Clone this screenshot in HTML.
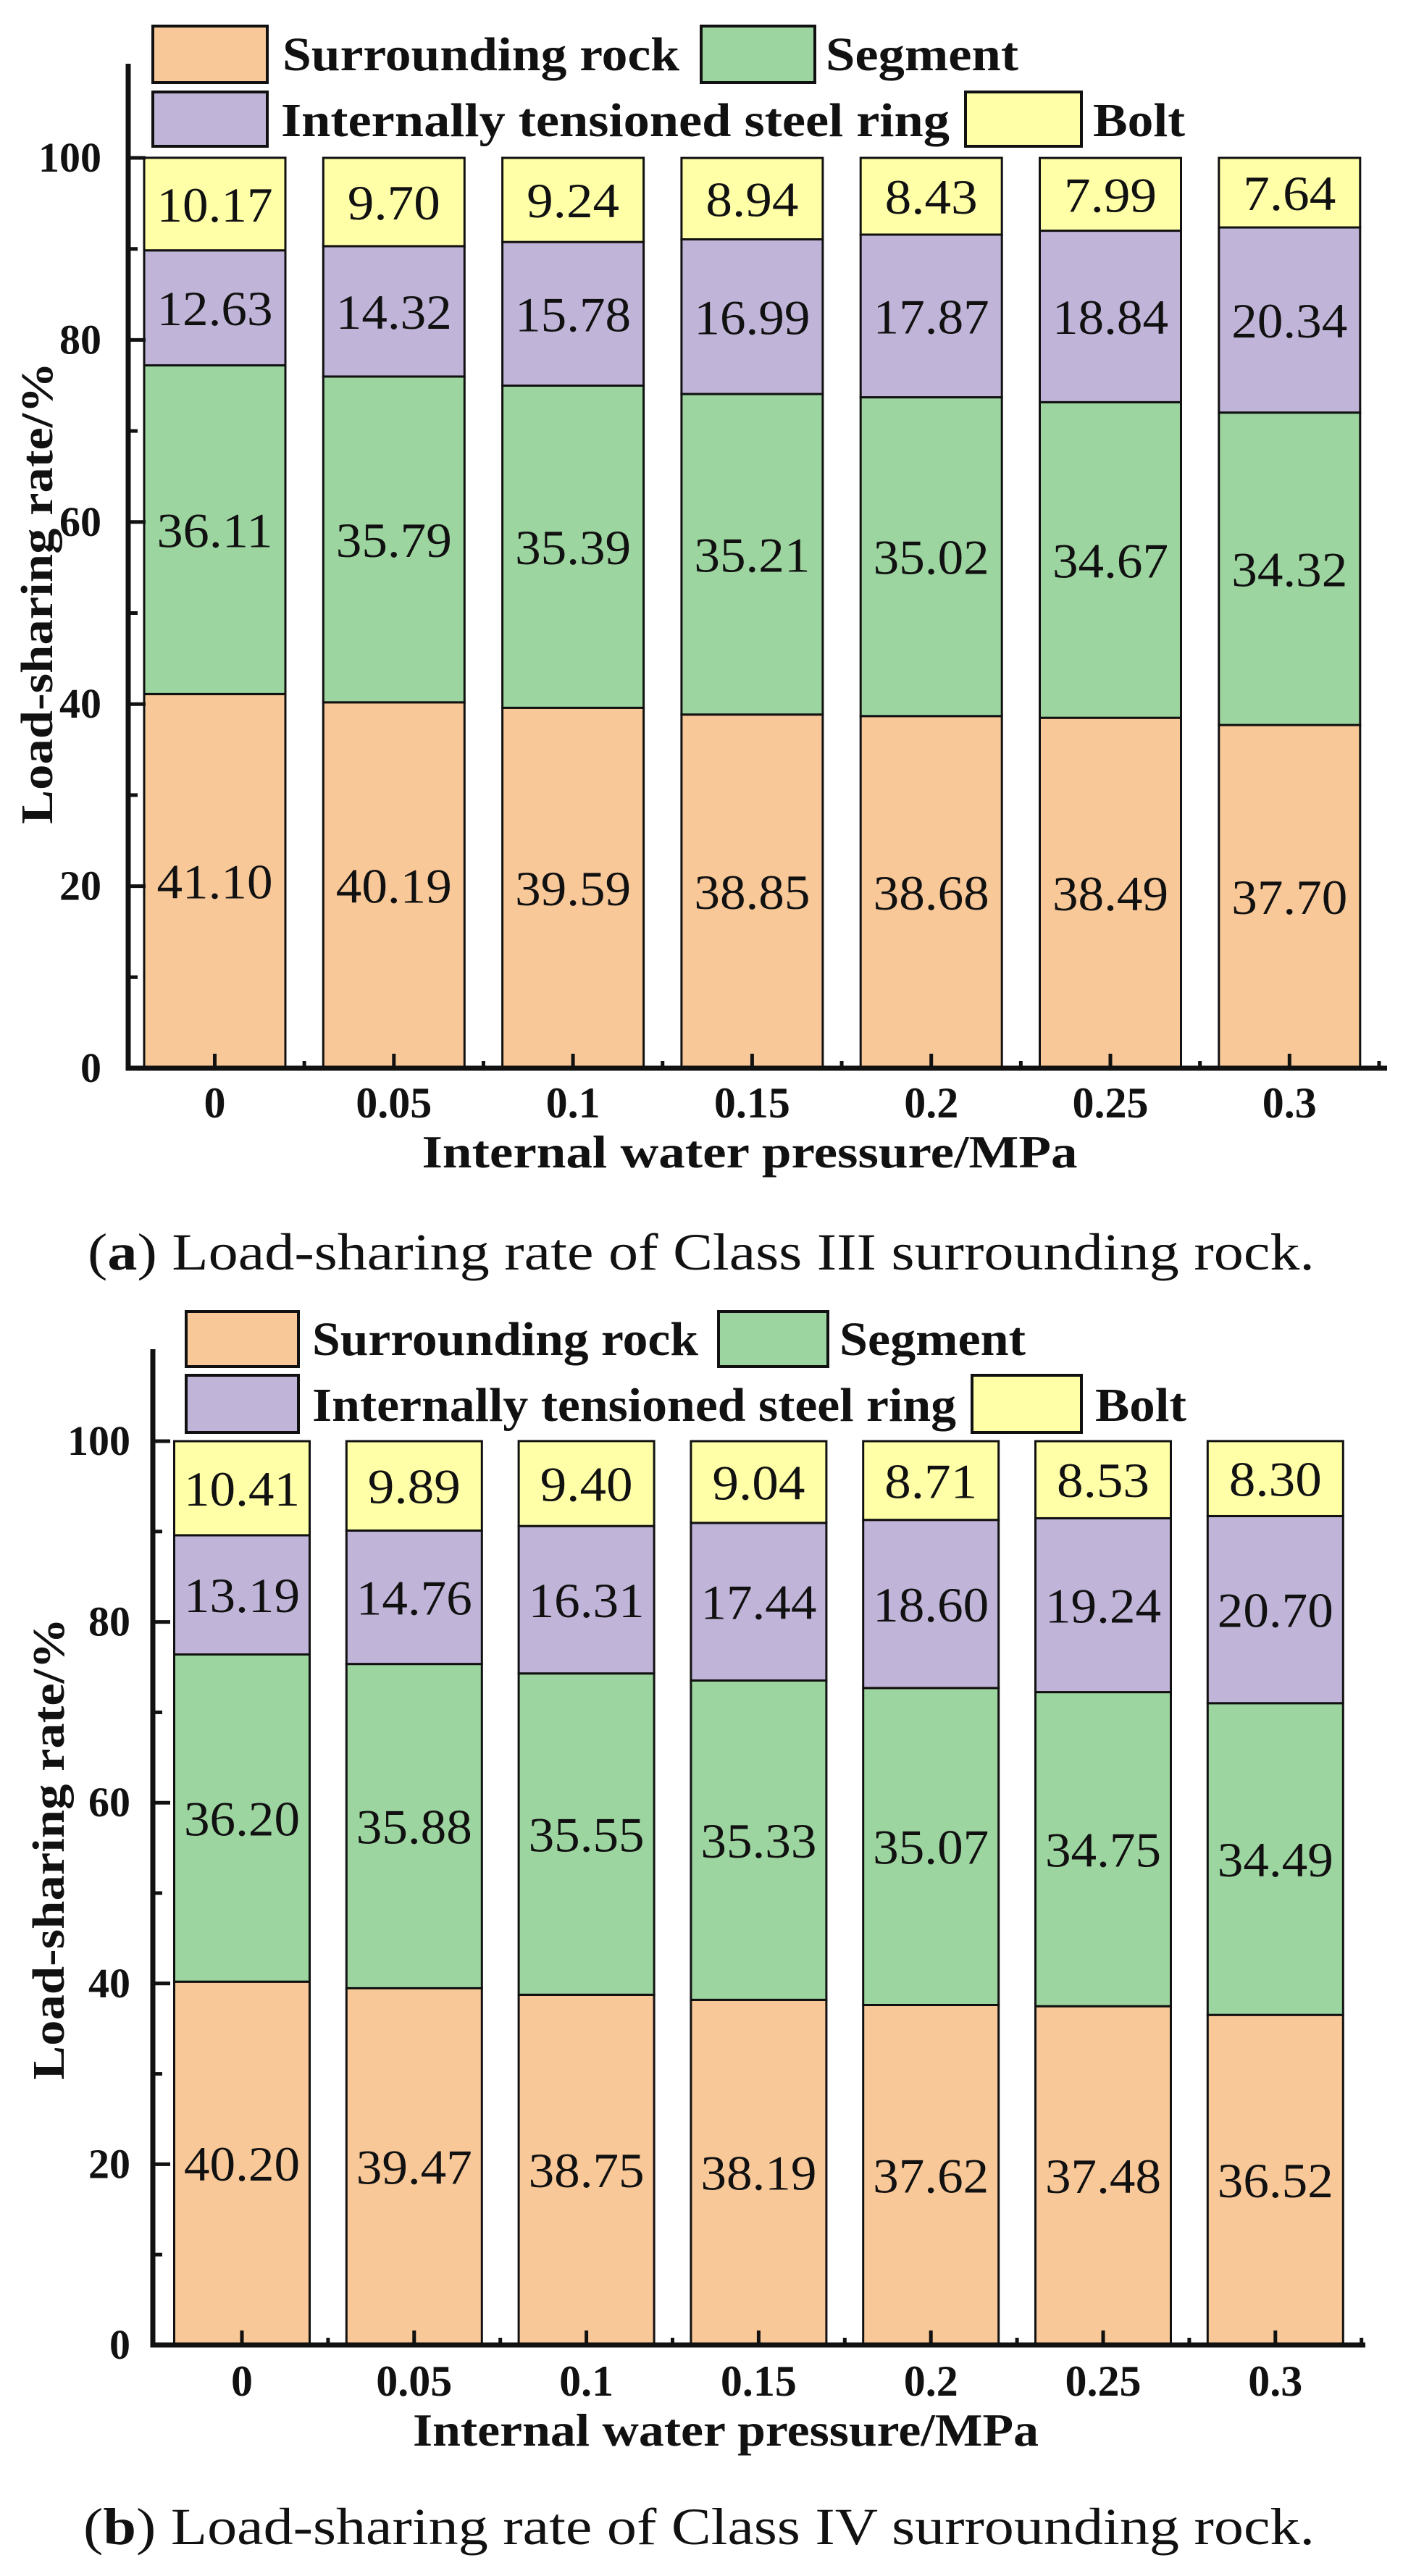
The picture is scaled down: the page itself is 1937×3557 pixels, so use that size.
<!DOCTYPE html>
<html><head><meta charset="utf-8"><style>
html,body{margin:0;padding:0;background:#fff;}
svg{display:block;}
text{font-family:"Liberation Serif","DejaVu Serif",serif;fill:#111;}
</style></head><body>
<svg id="fig" width="1937" height="3557" viewBox="0 0 1937 3557" xmlns="http://www.w3.org/2000/svg"></svg>
<script>
const categories = ["0","0.05","0.1","0.15","0.2","0.25","0.3"];
const seriesNames = ["Surrounding rock","Segment","Internally tensioned steel ring","Bolt"];
const rockA = [41.10,40.19,39.59,38.85,38.68,38.49,37.70];
const segA = [36.11,35.79,35.39,35.21,35.02,34.67,34.32];
const ringA = [12.63,14.32,15.78,16.99,17.87,18.84,20.34];
const boltA = [10.17,9.70,9.24,8.94,8.43,7.99,7.64];
const rockB = [40.20,39.47,38.75,38.19,37.62,37.48,36.52];
const segB = [36.20,35.88,35.55,35.33,35.07,34.75,34.49];
const ringB = [13.19,14.76,16.31,17.44,18.60,19.24,20.70];
const boltB = [10.41,9.89,9.40,9.04,8.71,8.53,8.30];
const yTicks = [0,20,40,60,80,100];
const yMinor = [10,30,50,70,90];

const NS="http://www.w3.org/2000/svg";
const svg=document.getElementById('fig');
const colors=["#F8C898","#9DD5A0","#C0B4D8","#FFFFA8"];
function mk(tag,attrs,parent,txt){const e=document.createElementNS(NS,tag);for(const k in attrs)e.setAttribute(k,attrs[k]);if(txt!==undefined)e.textContent=txt;(parent||svg).appendChild(e);return e;}

function chart(cfg,data,prefix){
  const g=mk('g',{});
  
  
  const yS=v=>cfg.y0-(cfg.y0-cfg.y100)*v/100;
  const xC=i=>cfg.c0+i*cfg.step;
  categories.forEach((c,i)=>{
    let base=0;
    data.forEach((ser,s)=>{
      const v=ser[i];
      const yt=yS(base+v), yb=yS(base);
      const r=mk('rect',{x:xC(i)-cfg.bw/2,y:yt,width:cfg.bw,height:yb-yt,fill:colors[s],stroke:'#111','stroke-width':3},g);
      
      
      const str=v.toFixed(2);
      const t=mk('text',{x:xC(i),y:(yt+yb)/2+24,'text-anchor':'middle','font-size':68,textLength:str.length*32,lengthAdjust:'spacingAndGlyphs'},g,str);
      
      
      base+=v;
    });
  });
  const ax=mk('path',{d:`M${cfg.ax},${cfg.top} V${cfg.y0} H${cfg.right}`,fill:'none',stroke:'#111','stroke-width':7},g);
  
  
  yTicks.forEach(v=>{
    mk('line',{x1:cfg.ax,x2:cfg.ax+24,y1:yS(v),y2:yS(v),stroke:'#111','stroke-width':5},g);
    const t=mk('text',{x:cfg.lblR,y:yS(v)+19,'text-anchor':'end','font-size':58,'font-weight':'bold'},g,String(v));
    
    
  });
  yMinor.forEach(v=>mk('line',{x1:cfg.ax,x2:cfg.ax+13,y1:yS(v),y2:yS(v),stroke:'#111','stroke-width':5},g));
  categories.forEach((c,i)=>{
    mk('line',{x1:xC(i),x2:xC(i),y1:cfg.y0,y2:cfg.y0-20,stroke:'#111','stroke-width':5},g);
    mk('line',{x1:xC(i)+cfg.step/2,x2:xC(i)+cfg.step/2,y1:cfg.y0,y2:cfg.y0-10,stroke:'#111','stroke-width':5},g);
    const t=mk('text',{x:xC(i),y:cfg.tickBase,'text-anchor':'middle','font-size':60,'font-weight':'bold'},g,c);
    
    
  });
  const xt=mk('text',{x:cfg.xtX,y:cfg.xtBase,'text-anchor':'middle','font-size':64,'font-weight':'bold',textLength:cfg.xtLen,lengthAdjust:'spacingAndGlyphs'},g,'Internal water pressure/MPa');
  
  
  const yt=mk('text',{x:0,y:0,'text-anchor':'middle','font-size':62,'font-weight':'bold',textLength:638,lengthAdjust:'spacingAndGlyphs',transform:`translate(${cfg.ytX},${cfg.ytY}) rotate(-90)`},g,'Load-sharing rate/%');
  
  
  cfg.leg.forEach((L,s)=>{
    const r=mk('rect',{x:L.bx,y:L.by,width:L.bw,height:L.bh,fill:colors[s],stroke:'#111','stroke-width':4},g);
    
    
    const t=mk('text',{x:L.tx,y:L.tb,'font-size':66,'font-weight':'bold',textLength:L.tl,lengthAdjust:'spacingAndGlyphs'},g,seriesNames[s]);
    
    
  });
  const cap=mk('text',{x:cfg.capX,y:cfg.capBase,'font-size':72,textLength:cfg.capLen,lengthAdjust:'spacingAndGlyphs'},g);
  
  
  mk('tspan',{},cap,'(');
  mk('tspan',{'font-weight':'bold'},cap,cfg.letter);
  mk('tspan',{},cap,') Load-sharing rate of '+cfg.cls+' surrounding rock.');
}

chart({y0:1475,y100:218,c0:296.5,step:247.3,bw:195,ax:177,top:88,right:1915,lblR:140,tickBase:1543,
  xtX:1035,xtBase:1612,xtLen:905,ytX:72,ytY:819,capX:121,capBase:1753,capLen:1694,letter:'a',cls:'Class III',
  leg:[{bx:211,by:36,bw:158,bh:78,tx:390,tb:97,tl:548},{bx:968,by:36,bw:157,bh:78,tx:1140,tb:97,tl:266},
       {bx:211,by:127,bw:158,bh:75,tx:388,tb:188,tl:923},{bx:1333,by:127,bw:160,bh:75,tx:1509,tb:188,tl:127}]},
  [rockA,segA,ringA,boltA],'chart-a');

chart({y0:3238,y100:1990,c0:334,step:237.8,bw:187,ax:211,top:1863,right:1885,lblR:180,tickBase:3308,
  xtX:1002,xtBase:3377,xtLen:864,ytX:88,ytY:2553,capX:115,capBase:3513,capLen:1700,letter:'b',cls:'Class IV',
  leg:[{bx:257,by:1811,bw:155,bh:76,tx:431,tb:1871,tl:533},{bx:992,by:1811,bw:151,bh:76,tx:1159,tb:1871,tl:257},
       {bx:257,by:1899,bw:155,bh:79,tx:431,tb:1962,tl:889},{bx:1342,by:1899,bw:151,bh:79,tx:1512,tb:1962,tl:126}]},
  [rockB,segB,ringB,boltB],'chart-b');
</script>
</body></html>
